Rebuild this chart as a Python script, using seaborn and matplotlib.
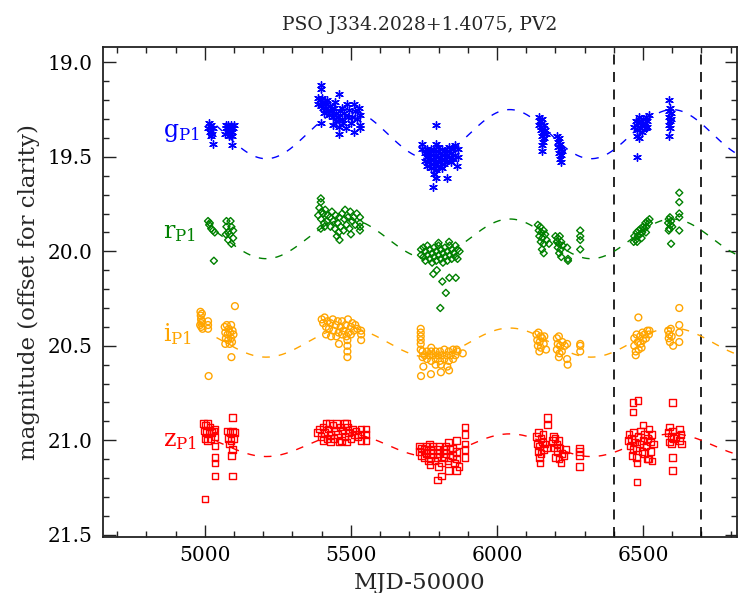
import numpy as np
import pandas as pd
import matplotlib
matplotlib.use("Agg")
import matplotlib.pyplot as plt
from matplotlib.ticker import MultipleLocator, FormatStrFormatter
import seaborn as sns

# ---------------------------------------------------------------- data
# (MJD-50000, magnitude) pairs, offsets for clarity already applied
g_points = [
    (5014, 19.32), (5022, 19.33), (5012, 19.35), (5028, 19.35), (5017, 19.37), (5026, 19.38),
    (5020, 19.39), (5028, 19.43),
    (5072, 19.33), (5081, 19.33), (5090, 19.33), (5099, 19.33), (5074, 19.35), (5085, 19.35),
    (5097, 19.35), (5080, 19.37), (5092, 19.37), (5083, 19.39), (5093, 19.39), (5068, 19.38),
    (5094, 19.44),
    (5397, 19.12), (5397, 19.14), (5388, 19.19), (5395, 19.20), (5402, 19.19), (5410, 19.21),
    (5388, 19.22), (5398, 19.23), (5405, 19.24), (5415, 19.22), (5420, 19.25), (5428, 19.23),
    (5435, 19.26), (5442, 19.24), (5450, 19.27), (5458, 19.17), (5425, 19.28), (5438, 19.29),
    (5448, 19.31), (5455, 19.29), (5462, 19.26), (5468, 19.30), (5470, 19.24), (5478, 19.27),
    (5485, 19.22), (5490, 19.29), (5495, 19.25), (5500, 19.32), (5440, 19.33), (5458, 19.34),
    (5472, 19.32), (5482, 19.35), (5510, 19.22), (5515, 19.26), (5520, 19.30), (5528, 19.24),
    (5530, 19.28), (5532, 19.33), (5512, 19.37), (5531, 19.35), (5458, 19.38), (5397, 19.32),
    (5408, 19.27), (5418, 19.20), (5445, 19.21), (5505, 19.29),
    (5742, 19.43), (5742, 19.46), (5752, 19.48), (5752, 19.52), (5760, 19.46), (5760, 19.50),
    (5760, 19.55), (5768, 19.48), (5768, 19.53), (5775, 19.46), (5775, 19.51), (5775, 19.56),
    (5782, 19.49), (5782, 19.54), (5790, 19.47), (5790, 19.52), (5790, 19.57), (5798, 19.45),
    (5798, 19.50), (5798, 19.55), (5805, 19.48), (5805, 19.53), (5812, 19.46), (5812, 19.51),
    (5812, 19.56), (5820, 19.49), (5820, 19.54), (5828, 19.47), (5828, 19.52), (5835, 19.45),
    (5835, 19.50), (5842, 19.48), (5842, 19.53), (5850, 19.46), (5850, 19.51), (5858, 19.44),
    (5858, 19.49), (5865, 19.46), (5865, 19.50), (5792, 19.33), (5786, 19.59), (5790, 19.61),
    (5782, 19.66), (5828, 19.61), (5864, 19.55), (5792, 19.43),
    (6143, 19.29), (6148, 19.31), (6155, 19.30), (6145, 19.33), (6152, 19.34), (6160, 19.33),
    (6150, 19.36), (6158, 19.37), (6165, 19.36), (6155, 19.39), (6162, 19.40), (6168, 19.38),
    (6158, 19.42), (6154, 19.44), (6154, 19.47),
    (6205, 19.39), (6212, 19.40), (6208, 19.42), (6215, 19.43), (6210, 19.45), (6218, 19.46),
    (6212, 19.48), (6220, 19.49), (6215, 19.51), (6222, 19.47), (6218, 19.53),
    (6470, 19.34), (6475, 19.31), (6478, 19.36), (6482, 19.32), (6485, 19.29), (6488, 19.35),
    (6492, 19.31), (6495, 19.33), (6500, 19.30), (6505, 19.32), (6510, 19.29), (6515, 19.31),
    (6520, 19.28), (6478, 19.39), (6485, 19.40), (6495, 19.37), (6510, 19.35), (6515, 19.34),
    (6481, 19.50),
    (6590, 19.20), (6592, 19.24), (6588, 19.26), (6595, 19.27), (6590, 19.29), (6593, 19.31),
    (6588, 19.33), (6592, 19.35), (6590, 19.39), (6595, 19.30),
]

r_points = [
    (5011, 19.84), (5017, 19.85), (5015, 19.86), (5028, 19.89), (5034, 19.90), (5022, 19.88),
    (5031, 20.05),
    (5074, 19.84), (5088, 19.84), (5074, 19.87), (5091, 19.87), (5080, 19.90), (5097, 19.89),
    (5072, 19.91), (5085, 19.91), (5080, 19.94), (5091, 19.96), (5097, 19.93),
    (5397, 19.72), (5397, 19.74), (5392, 19.77), (5400, 19.79), (5388, 19.81), (5398, 19.83),
    (5405, 19.80), (5412, 19.78), (5420, 19.81), (5408, 19.85), (5418, 19.84), (5428, 19.82),
    (5435, 19.79), (5440, 19.84), (5448, 19.81), (5430, 19.87), (5445, 19.88), (5455, 19.85),
    (5460, 19.82), (5470, 19.80), (5478, 19.83), (5465, 19.87), (5458, 19.90), (5452, 19.92),
    (5461, 19.94), (5475, 19.89), (5485, 19.86), (5490, 19.82), (5498, 19.79), (5505, 19.84),
    (5495, 19.88), (5510, 19.82), (5515, 19.86), (5520, 19.80), (5531, 19.82), (5531, 19.85),
    (5531, 19.87), (5531, 19.89), (5397, 19.88), (5410, 19.87), (5480, 19.78), (5500, 19.91),
    (5740, 19.99), (5740, 20.02), (5748, 19.98), (5748, 20.03), (5755, 20.00), (5755, 20.05),
    (5762, 19.97), (5762, 20.02), (5770, 19.99), (5770, 20.04), (5778, 20.01), (5778, 20.06),
    (5785, 19.98), (5785, 20.03), (5792, 20.00), (5792, 20.05), (5800, 19.97), (5800, 20.02),
    (5808, 19.99), (5808, 20.04), (5815, 20.01), (5815, 20.06), (5822, 19.98), (5822, 20.03),
    (5830, 20.00), (5830, 20.05), (5838, 19.97), (5838, 20.02), (5845, 19.99), (5845, 20.04),
    (5852, 20.01), (5858, 19.97), (5858, 20.03), (5865, 19.99), (5865, 20.04), (5872, 20.00),
    (5836, 19.95), (5800, 19.955), (5794, 20.10), (5782, 20.12), (5813, 20.16), (5837, 20.14),
    (5859, 20.14), (5825, 20.22), (5806, 20.30),
    (6140, 19.86), (6148, 19.87), (6143, 19.89), (6152, 19.90), (6160, 19.89), (6145, 19.92),
    (6155, 19.93), (6165, 19.91), (6150, 19.95), (6160, 19.96), (6170, 19.94), (6178, 19.96),
    (6154, 19.99), (6160, 20.01),
    (6200, 19.92), (6208, 19.93), (6215, 19.92), (6205, 19.95), (6212, 19.96), (6220, 19.95),
    (6208, 19.98), (6218, 19.99), (6225, 19.97), (6213, 20.01), (6220, 20.03),
    (6240, 19.98), (6243, 20.04), (6243, 20.05),
    (6285, 19.89), (6285, 19.92), (6285, 19.94), (6285, 19.99),
    (6468, 19.95), (6470, 19.92), (6475, 19.94), (6478, 19.90), (6482, 19.92), (6485, 19.89),
    (6490, 19.91), (6492, 19.88), (6497, 19.90), (6500, 19.87), (6505, 19.88), (6508, 19.85),
    (6512, 19.87), (6515, 19.84), (6520, 19.85), (6522, 19.83), (6480, 19.95), (6495, 19.93),
    (6510, 19.90),
    (6588, 19.83), (6592, 19.82), (6586, 19.85), (6594, 19.86), (6590, 19.88), (6596, 19.84),
    (6588, 19.89), (6600, 19.87), (6596, 19.96),
    (6624, 19.69), (6624, 19.74), (6624, 19.80), (6624, 19.82), (6624, 19.89),
]

i_points = [
    (4985, 20.32), (4986, 20.34), (4987, 20.36), (4988, 20.38), (4988, 20.40), (4990, 20.33),
    (4990, 20.37), (4984, 20.39), (4992, 20.41),
    (5011, 20.37), (5011, 20.39), (5011, 20.41),
    (5068, 20.40), (5075, 20.39), (5082, 20.41), (5090, 20.39), (5070, 20.43), (5078, 20.44),
    (5086, 20.43), (5095, 20.42), (5072, 20.46), (5080, 20.47), (5090, 20.46), (5098, 20.44),
    (5070, 20.49), (5085, 20.49), (5093, 20.48),
    (5103, 20.29), (5091, 20.56), (5013, 20.66),
    (5400, 20.36), (5405, 20.38), (5410, 20.35), (5415, 20.40), (5420, 20.37), (5425, 20.41),
    (5430, 20.38), (5438, 20.36), (5440, 20.42), (5448, 20.39), (5455, 20.37), (5458, 20.43),
    (5465, 20.40), (5470, 20.37), (5475, 20.42), (5482, 20.39), (5490, 20.36), (5492, 20.43),
    (5500, 20.40), (5505, 20.38), (5510, 20.42), (5515, 20.39), (5522, 20.41), (5415, 20.44),
    (5432, 20.45), (5450, 20.45), (5470, 20.44), (5485, 20.45), (5500, 20.44),
    (5459, 20.49), (5488, 20.47), (5488, 20.50), (5488, 20.53), (5488, 20.56),
    (5535, 20.42), (5535, 20.44), (5535, 20.47),
    (5739, 20.41), (5739, 20.43), (5739, 20.45), (5739, 20.47), (5739, 20.49), (5739, 20.52),
    (5745, 20.53), (5745, 20.56), (5752, 20.55), (5760, 20.53), (5760, 20.57), (5768, 20.55),
    (5775, 20.53), (5775, 20.58), (5782, 20.55), (5790, 20.53), (5790, 20.57), (5798, 20.55),
    (5805, 20.53), (5805, 20.58), (5812, 20.55), (5820, 20.52), (5820, 20.57), (5828, 20.55),
    (5835, 20.53), (5835, 20.58), (5842, 20.55), (5850, 20.52), (5850, 20.57), (5858, 20.55),
    (5865, 20.53), (5808, 20.60), (5830, 20.61), (5790, 20.60),
    (5775, 20.51), (5748, 20.61), (5740, 20.66), (5774, 20.65), (5808, 20.64), (5836, 20.63),
    (5883, 20.54), (5862, 20.52),
    (6135, 20.44), (6142, 20.43), (6150, 20.45), (6138, 20.47), (6146, 20.48), (6155, 20.46),
    (6140, 20.50), (6150, 20.51), (6160, 20.49), (6168, 20.52), (6145, 20.53), (6162, 20.45),
    (6205, 20.46), (6212, 20.45), (6208, 20.49), (6216, 20.50), (6224, 20.48), (6205, 20.52),
    (6214, 20.54), (6222, 20.53), (6232, 20.50), (6240, 20.49), (6212, 20.56), (6240, 20.57),
    (6242, 20.60),
    (6285, 20.49), (6285, 20.50), (6285, 20.53),
    (6470, 20.46), (6470, 20.50), (6475, 20.53), (6478, 20.44), (6482, 20.48), (6485, 20.52),
    (6490, 20.45), (6492, 20.49), (6498, 20.43), (6500, 20.47), (6505, 20.44), (6510, 20.46),
    (6515, 20.42), (6520, 20.44), (6522, 20.42), (6475, 20.55), (6495, 20.51), (6484, 20.35),
    (6586, 20.42), (6590, 20.44), (6595, 20.41), (6588, 20.46), (6598, 20.45), (6592, 20.48),
    (6603, 20.50), (6624, 20.30), (6624, 20.39), (6624, 20.48), (6624, 20.43),
]

z_points = [
    (4995, 20.91), (5002, 20.92), (5010, 20.91), (5018, 20.93), (4998, 20.95), (5006, 20.96),
    (5014, 20.95), (5022, 20.96), (5000, 20.99), (5010, 21.00), (5020, 20.99), (5030, 20.95),
    (5035, 20.98),
    (5035, 20.94), (5035, 21.03), (5035, 21.09), (5035, 21.12), (5035, 21.19),
    (5078, 20.95), (5086, 20.96), (5095, 20.95), (5102, 20.96), (5080, 20.99), (5090, 21.00),
    (5100, 20.99), (5085, 21.02),
    (5095, 20.88), (5095, 21.05), (5091, 21.08), (5095, 21.19), (5000, 21.31),
    (5385, 20.96), (5392, 20.94), (5398, 20.98), (5405, 20.93), (5410, 20.96), (5418, 20.99),
    (5422, 20.94), (5430, 20.97), (5438, 20.92), (5442, 20.99), (5448, 20.95), (5455, 20.97),
    (5462, 20.93), (5468, 21.00), (5472, 20.95), (5480, 20.98), (5488, 20.93), (5492, 20.96),
    (5500, 20.99), (5505, 20.94), (5512, 20.97), (5518, 20.95), (5525, 20.98), (5405, 21.00),
    (5430, 21.01), (5460, 21.01), (5485, 21.01), (5415, 20.91), (5450, 20.91), (5478, 20.91),
    (5426, 20.91), (5485, 20.91),
    (5535, 20.94), (5535, 20.97), (5535, 21.00), (5551, 20.94), (5551, 20.97), (5551, 21.00),
    (5735, 21.03), (5735, 21.06), (5742, 21.04), (5742, 21.08), (5750, 21.05), (5750, 21.09),
    (5758, 21.03), (5758, 21.07), (5765, 21.11), (5772, 21.05), (5772, 21.09), (5780, 21.03),
    (5780, 21.07), (5788, 21.11), (5795, 21.05), (5795, 21.09), (5802, 21.03), (5802, 21.07),
    (5810, 21.12), (5818, 21.05), (5818, 21.09), (5825, 21.03), (5825, 21.07), (5832, 21.11),
    (5840, 21.05), (5840, 21.09), (5848, 21.04), (5848, 21.08), (5855, 21.12), (5862, 21.06),
    (5862, 21.10), (5870, 21.14), (5770, 21.13), (5800, 21.14), (5769, 21.02), (5834, 21.01),
    (5891, 20.93), (5891, 20.97), (5891, 21.02), (5891, 21.05), (5891, 21.09), (5862, 21.00),
    (5796, 21.21), (5811, 21.19), (5834, 21.16), (5862, 21.16),
    (6135, 20.98), (6142, 20.96), (6150, 20.99), (6158, 20.97), (6138, 21.02), (6146, 21.03),
    (6155, 21.01), (6165, 21.02), (6140, 21.06), (6150, 21.07), (6160, 21.05), (6170, 21.04),
    (6145, 21.09),
    (6190, 21.00), (6198, 20.99), (6205, 21.02), (6212, 21.00), (6195, 21.04), (6205, 21.06),
    (6215, 21.04), (6222, 21.07), (6200, 21.09), (6212, 21.10), (6220, 21.12), (6230, 21.08),
    (6235, 21.05),
    (6173, 20.88), (6173, 20.92), (6148, 21.12), (6194, 20.98),
    (6283, 21.04), (6283, 21.06), (6283, 21.08), (6283, 21.14),
    (6448, 21.00), (6452, 20.97), (6455, 21.03), (6460, 20.99), (6465, 21.05), (6468, 20.96),
    (6472, 21.01), (6478, 21.04), (6482, 20.98), (6488, 21.02), (6492, 20.95), (6496, 21.06),
    (6500, 21.00), (6505, 20.97), (6510, 21.03), (6515, 20.99), (6520, 20.94), (6525, 21.01),
    (6530, 20.97), (6535, 21.02), (6462, 21.08), (6478, 21.09), (6505, 21.07), (6525, 21.06),
    (6515, 21.10), (6530, 21.11), (6500, 20.92), (6519, 21.10),
    (6466, 20.80), (6482, 20.79), (6466, 20.85), (6480, 21.12), (6480, 21.22),
    (6586, 20.96), (6590, 20.93), (6595, 20.98), (6600, 20.95), (6605, 20.99), (6590, 21.01),
    (6598, 21.02), (6625, 20.94), (6630, 20.97), (6625, 21.00), (6632, 21.02), (6612, 20.98),
    (6600, 20.80), (6600, 21.09), (6600, 21.16),
]

bands = ["g", "r", "i", "z"]
band_points = {"g": g_points, "r": r_points, "i": i_points, "z": z_points}
band_colors = {"g": "#0000ff", "r": "#008000", "i": "#ffa500", "z": "#ff0000"}

# sinusoidal model: common period and epoch of maximum brightness
model_period = 556.0
model_t_peak = 6044.0
model_mean = {"g": 19.38, "r": 19.934, "i": 20.483, "z": 21.026}
model_amp = {"g": 0.13, "r": 0.105, "i": 0.077, "z": 0.06}
model_span = (5040, 6820)

epoch_marks = [6400, 6700]

# ---------------------------------------------------------------- style
sns.set_style("ticks")
plt.rcParams["font.family"] = ["DejaVu Serif", "Liberation Serif"]
plt.rcParams["mathtext.fontset"] = "dejavuserif"

fig = plt.figure(figsize=(7.38, 5.93), dpi=100)
ax = fig.add_axes([0.139, 0.095, 0.859, 0.826])

marker_style = {
    "g": dict(marker=(6, 2, 0), s=30, linewidths=1.0),
    "r": dict(marker="D", s=13, linewidths=1.0),
    "i": dict(marker="o", s=24, linewidths=1.0),
    "z": dict(marker="s", s=22, linewidths=1.0),
}

frames = []
for b in bands:
    arr = np.array(band_points[b])
    frames.append(pd.DataFrame({"mjd": arr[:, 0], "mag": arr[:, 1], "band": b}))
df = pd.concat(frames, ignore_index=True)

t = np.linspace(model_span[0], model_span[1], 800)
for b in bands:
    sub = df[df["band"] == b]
    st = marker_style[b]
    if b == "g":
        sns.scatterplot(data=sub, x="mjd", y="mag", ax=ax, color=band_colors[b],
                        marker=st["marker"], s=st["s"], linewidth=st["linewidths"],
                        edgecolor=band_colors[b], legend=False, zorder=3)
    else:
        sns.scatterplot(data=sub, x="mjd", y="mag", ax=ax, marker=st["marker"], s=st["s"],
                        facecolor="none", edgecolor=band_colors[b],
                        linewidth=st["linewidths"], legend=False, zorder=3)
    model = model_mean[b] - model_amp[b] * np.cos(2 * np.pi * (t - model_t_peak) / model_period)
    sns.lineplot(x=t, y=model, ax=ax, color=band_colors[b], lw=1.0,
                 linestyle=(0, (5.5, 6.5)), sort=False, zorder=2)

for m in epoch_marks:
    ax.axvline(m, color="black", lw=1.2, linestyle=(0, (6, 4.5)), zorder=1)

# band labels
label_y = {"g": 19.37, "r": 19.90, "i": 20.44, "z": 21.0}
for b in bands:
    ax.text(4858, label_y[b], r"$\mathrm{%s}_{\mathrm{P1}}$" % b, color=band_colors[b],
            fontsize=17, va="center", ha="left")

ax.set_xlim(4650, 6820)
ax.set_ylim(21.51, 18.918)
ax.xaxis.set_major_locator(MultipleLocator(500))
ax.xaxis.set_minor_locator(MultipleLocator(100))
ax.yaxis.set_major_locator(MultipleLocator(0.5))
ax.yaxis.set_minor_locator(MultipleLocator(0.1))
ax.yaxis.set_major_formatter(FormatStrFormatter("%.1f"))
ax.tick_params(which="both", direction="in", top=True, right=True, colors="#222222",
               labelcolor="black", labelsize=14.5, width=1.0)
ax.tick_params(which="major", length=9, pad=7)
ax.tick_params(which="minor", length=4.5)
for sp in ax.spines.values():
    sp.set_linewidth(1.3)
    sp.set_color("#222222")

ax.set_xlabel("MJD-50000", fontsize=16.5, labelpad=5)
ax.set_ylabel("magnitude (offset for clarity)", fontsize=16.5, labelpad=6)
ax.set_title("PSO J334.2028+1.4075, PV2", fontsize=13.5, pad=12)

fig.savefig("out.png", dpi=100)
